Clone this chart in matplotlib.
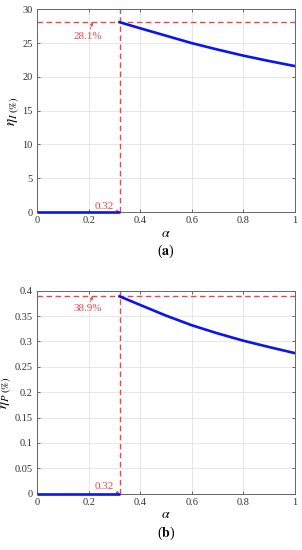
import matplotlib
matplotlib.use("Agg")
import matplotlib.pyplot as plt
import numpy as np

plt.rcParams['font.family'] = ['Liberation Serif', 'DejaVu Serif']
plt.rcParams['mathtext.fontset'] = 'stix'

# Data
alpha_zero = [0.0, 0.32]
eta_zero = [0.0, 0.0]
alpha_curve = [0.32, 0.4, 0.5, 0.6, 0.7, 0.8, 0.9, 1.0]
eta_I = [28.1, 27.2, 26.1, 25.0, 24.05, 23.15, 22.35, 21.6]
eta_P = [0.389, 0.372, 0.351, 0.332, 0.316, 0.3015, 0.289, 0.277]
alpha_c = 0.32
peak_I = 28.1
peak_P = 0.389
xticks = [0, 0.2, 0.4, 0.6, 0.8, 1]
xticklabels = ['0', '0.2', '0.4', '0.6', '0.8', '1']
yticks_I = [0, 5, 10, 15, 20, 25, 30]
yticklabels_I = ['0', '5', '10', '15', '20', '25', '30']
yticks_P = [0, 0.05, 0.1, 0.15, 0.2, 0.25, 0.3, 0.35, 0.4]
yticklabels_P = ['0', '0.05', '0.1', '0.15', '0.2', '0.25', '0.3', '0.35', '0.4']

RED = '#e8484c'
BLUE = '#0a14f0'
fig = plt.figure(figsize=(3.02, 5.5), dpi=100)

def panel(rect, yvals, peak, yticks, yticklabels, ymax, ylabel, panel_lbl, txt_pos, zero_txt_pos, pct):
    ax = fig.add_axes(rect)
    ax.plot(alpha_zero, eta_zero, color=BLUE, lw=1.9, zorder=5, solid_capstyle='butt', clip_on=False)
    ax.plot(alpha_curve, yvals, color=BLUE, lw=1.9, zorder=3)
    ax.plot([alpha_c, alpha_c], [0, ymax], color=RED, lw=1.0, ls=(0, (4, 2.5)), zorder=2)
    ax.plot([0, 1], [peak, peak], color=RED, lw=1.0, ls=(0, (4, 2.5)), zorder=2)
    ax.set_xlim(0, 1)
    ax.set_ylim(0, ymax)
    ax.set_xticks(xticks)
    ax.set_xticklabels(xticklabels)
    ax.set_yticks(yticks)
    ax.set_yticklabels(yticklabels)
    ax.grid(True, color='#e3e3e3', lw=0.6)
    ax.set_axisbelow(True)
    ax.tick_params(direction='in', length=2.5, width=0.5, labelsize=7.5, colors='#333333',
                   top=True, right=True, pad=3)
    for s in ax.spines.values():
        s.set_color('#666666')
        s.set_linewidth(0.7)
    ax.set_ylabel(ylabel, fontsize=11, labelpad=1)
    ax.set_xlabel(r'$\alpha$', fontsize=10, labelpad=1)
    ax.annotate(pct, xy=(0.215, peak), xytext=txt_pos,
                color=RED, fontsize=8, ha='center', va='center',
                arrowprops=dict(arrowstyle='-|>', color=RED, lw=0.6, mutation_scale=4,
                                shrinkA=0, shrinkB=0))
    ax.annotate('0.32', xy=(alpha_c, 0), xytext=zero_txt_pos,
                color=RED, fontsize=8, ha='center', va='center',
                arrowprops=dict(arrowstyle='-|>', color=RED, lw=0.6, mutation_scale=4,
                                shrinkA=0, shrinkB=0))
    fig.text(rect[0] + rect[2] / 2, rect[1] - 0.072, panel_lbl, ha='center', va='center', fontsize=10)
    return ax

panel([0.1225, 0.6145, 0.854, 0.3685], eta_I, peak_I, yticks_I, yticklabels_I, 30,
      r'$\eta_{I\ (\%)}$', r'($\mathbf{a}$)', (0.198, 26.0), (0.262, 0.85), '28.1%')
panel([0.1225, 0.1024, 0.854, 0.369], eta_P, peak_P, yticks_P, yticklabels_P, 0.4,
      r'$\eta_{P\ (\%)}$', r'($\mathbf{b}$)', (0.198, 0.364), (0.262, 0.014), '38.9%')

fig.savefig('out.png', dpi=100)
